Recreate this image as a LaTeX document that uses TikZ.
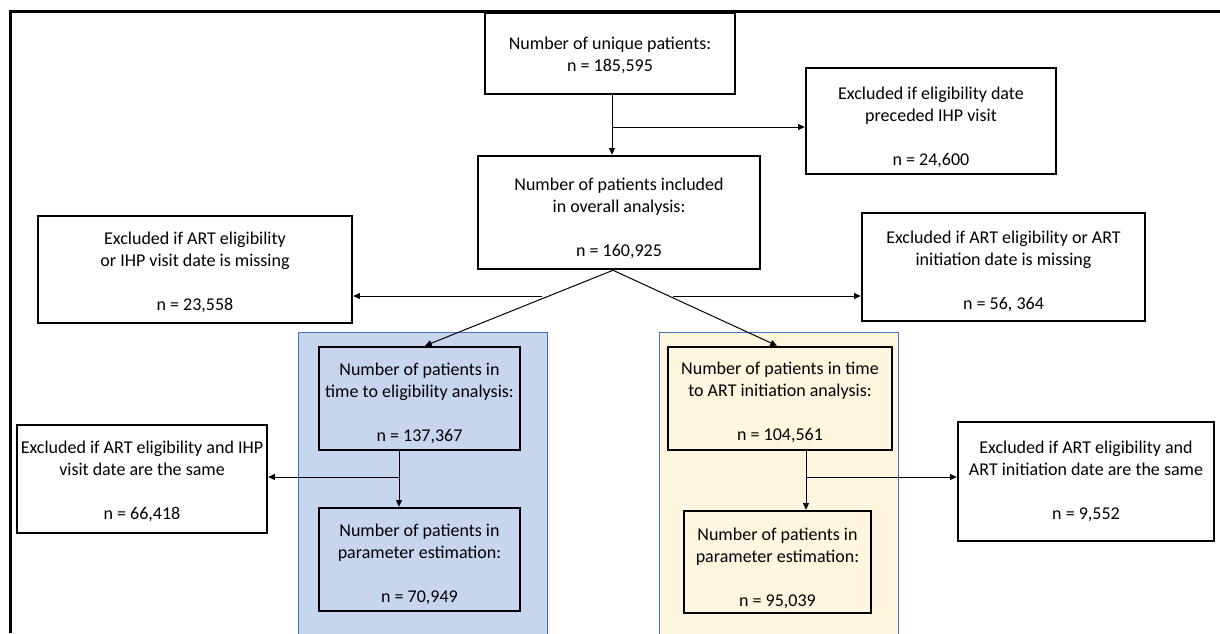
\documentclass[tikz,border=0pt]{standalone}
\usepackage{fontspec}
\setmainfont{Carlito}
\usetikzlibrary{arrows.meta}
\definecolor{panelblue}{HTML}{C7D6EE}
\definecolor{panelyellow}{HTML}{FFF6DF}
\definecolor{panelline}{HTML}{4472C4}
\begin{document}
\begin{tikzpicture}[x=0.75pt,y=-0.75pt,
  box/.style={draw=black,line width=1.9pt,inner sep=0pt},
  txt/.style={align=center,inner sep=0pt,font=\fontsize{13.5}{16.5}\selectfont},
  sz/.style 2 args={minimum width=#1*0.75pt,minimum height=#2*0.75pt},
  arr/.style={line width=0.75pt,-{Triangle[length=5pt,width=4.5pt]}},
  panel/.style={draw=panelline,line width=0.75pt}]
\useasboundingbox (0,0) rectangle (1220,633);
\fill[white] (0,0) rectangle (1220,633);
% outer frame (only top and left visible)
\draw[line width=2.1pt] (10.5,633) -- (10.5,11.4) -- (1220,11.4);
% panels
\path[panel,fill=panelblue] (298,332) rectangle (547,640);
\path[panel,fill=panelyellow] (659,332) rectangle (898,640);
% boxes
\node[box,sz={250}{81}] (b1) at (610,53.5) {};
\node[box,sz={250}{106}] (b2) at (931,121) {};
\node[box,sz={282}{113}] (b3) at (619,212.5) {};
\node[box,sz={314}{107}] (b4) at (195,269.5) {};
\node[box,sz={283}{108}] (b5) at (1003.5,267) {};
\node[box,sz={201}{103}] (b6) at (419.5,398.5) {};
\node[box,sz={201}{103}] (b7) at (419.5,559.5) {};
\node[box,sz={224}{103}] (b8) at (780,398.5) {};
\node[box,sz={187}{102}] (b9) at (777.5,562) {};
\node[box,sz={250}{108}] (b10) at (142,479) {};
\node[box,sz={256}{119}] (b11) at (1086,481.5) {};
% texts
\node[txt] (t1) at ([yshift=-1.5pt]b1.center) {Number of unique patients:\\n = 185,595};
\node[txt] (t2) at ([yshift=-4.5pt]b2.center) {Excluded if eligibility date\\preceded IHP visit\\[16.5pt]n = 24,600};
\node[txt] (t3) at ([yshift=-4.5pt]b3.center) {Number of patients included\\in overall analysis:\\[16.5pt]n = 160,925};
\node[txt] (t4) at ([yshift=-1.9pt]b4.center) {Excluded if ART eligibility\\or IHP visit date is missing\\[16.5pt]n = 23,558};
\node[txt] (t5) at ([yshift=-3pt]b5.center) {Excluded if ART eligibility or ART\\initiation date is missing\\[16.5pt]n = 56, 364};
\node[txt] (t6) at ([yshift=-3.75pt]b6.center) {Number of patients in\\time to eligibility analysis:\\[16.5pt]n = 137,367};
\node[txt] (t7) at ([yshift=-3.75pt]b7.center) {Number of patients in\\parameter estimation:\\[16.5pt]n = 70,949};
\node[txt] (t8) at ([yshift=-3pt]b8.center) {Number of patients in time\\to ART initiation analysis:\\[16.5pt]n = 104,561};
\node[txt] (t9) at ([yshift=-4.5pt]b9.center) {Number of patients in\\parameter estimation:\\[16.5pt]n = 95,039};
\node[txt] (t10) at ([yshift=-1.9pt]b10.center) {Excluded if ART eligibility and IHP\\visit date are the same\\[16.5pt]n = 66,418};
\node[txt] (t11) at (b11.center) {Excluded if ART eligibility and\\ART initiation date are the same\\[16.5pt]n = 9,552};
% junction coordinates
\coordinate (j1) at (612,127);
\coordinate (apex) at (613,269);
\coordinate (tL) at (425,347);
\coordinate (tR) at (777,347);
\coordinate (hL) at (542,296);
\coordinate (hR) at (673,296);
\coordinate (vL) at (399,477);
\coordinate (vR) at (806,477);
% connectors
\draw[arr] (j1 |- b1.south) -- (j1 |- b3.north);
\draw[arr] (j1) -- (j1 -| b2.west);
\draw[arr] (b3.south -| apex) -- (b6.north -| tL);
\draw[arr] (b3.south -| apex) -- (b8.north -| tR);
\draw[arr] (hL) -- (hL -| b4.east);
\draw[arr] (hR) -- (hR -| b5.west);
\draw[arr] (vL |- b6.south) -- (vL |- b7.north);
\draw[arr] (vL) -- (vL -| b10.east);
\draw[arr] (vR |- b8.south) -- (vR |- b9.north);
\draw[arr] (vR) -- (vR -| b11.west);
\end{tikzpicture}
\end{document}
